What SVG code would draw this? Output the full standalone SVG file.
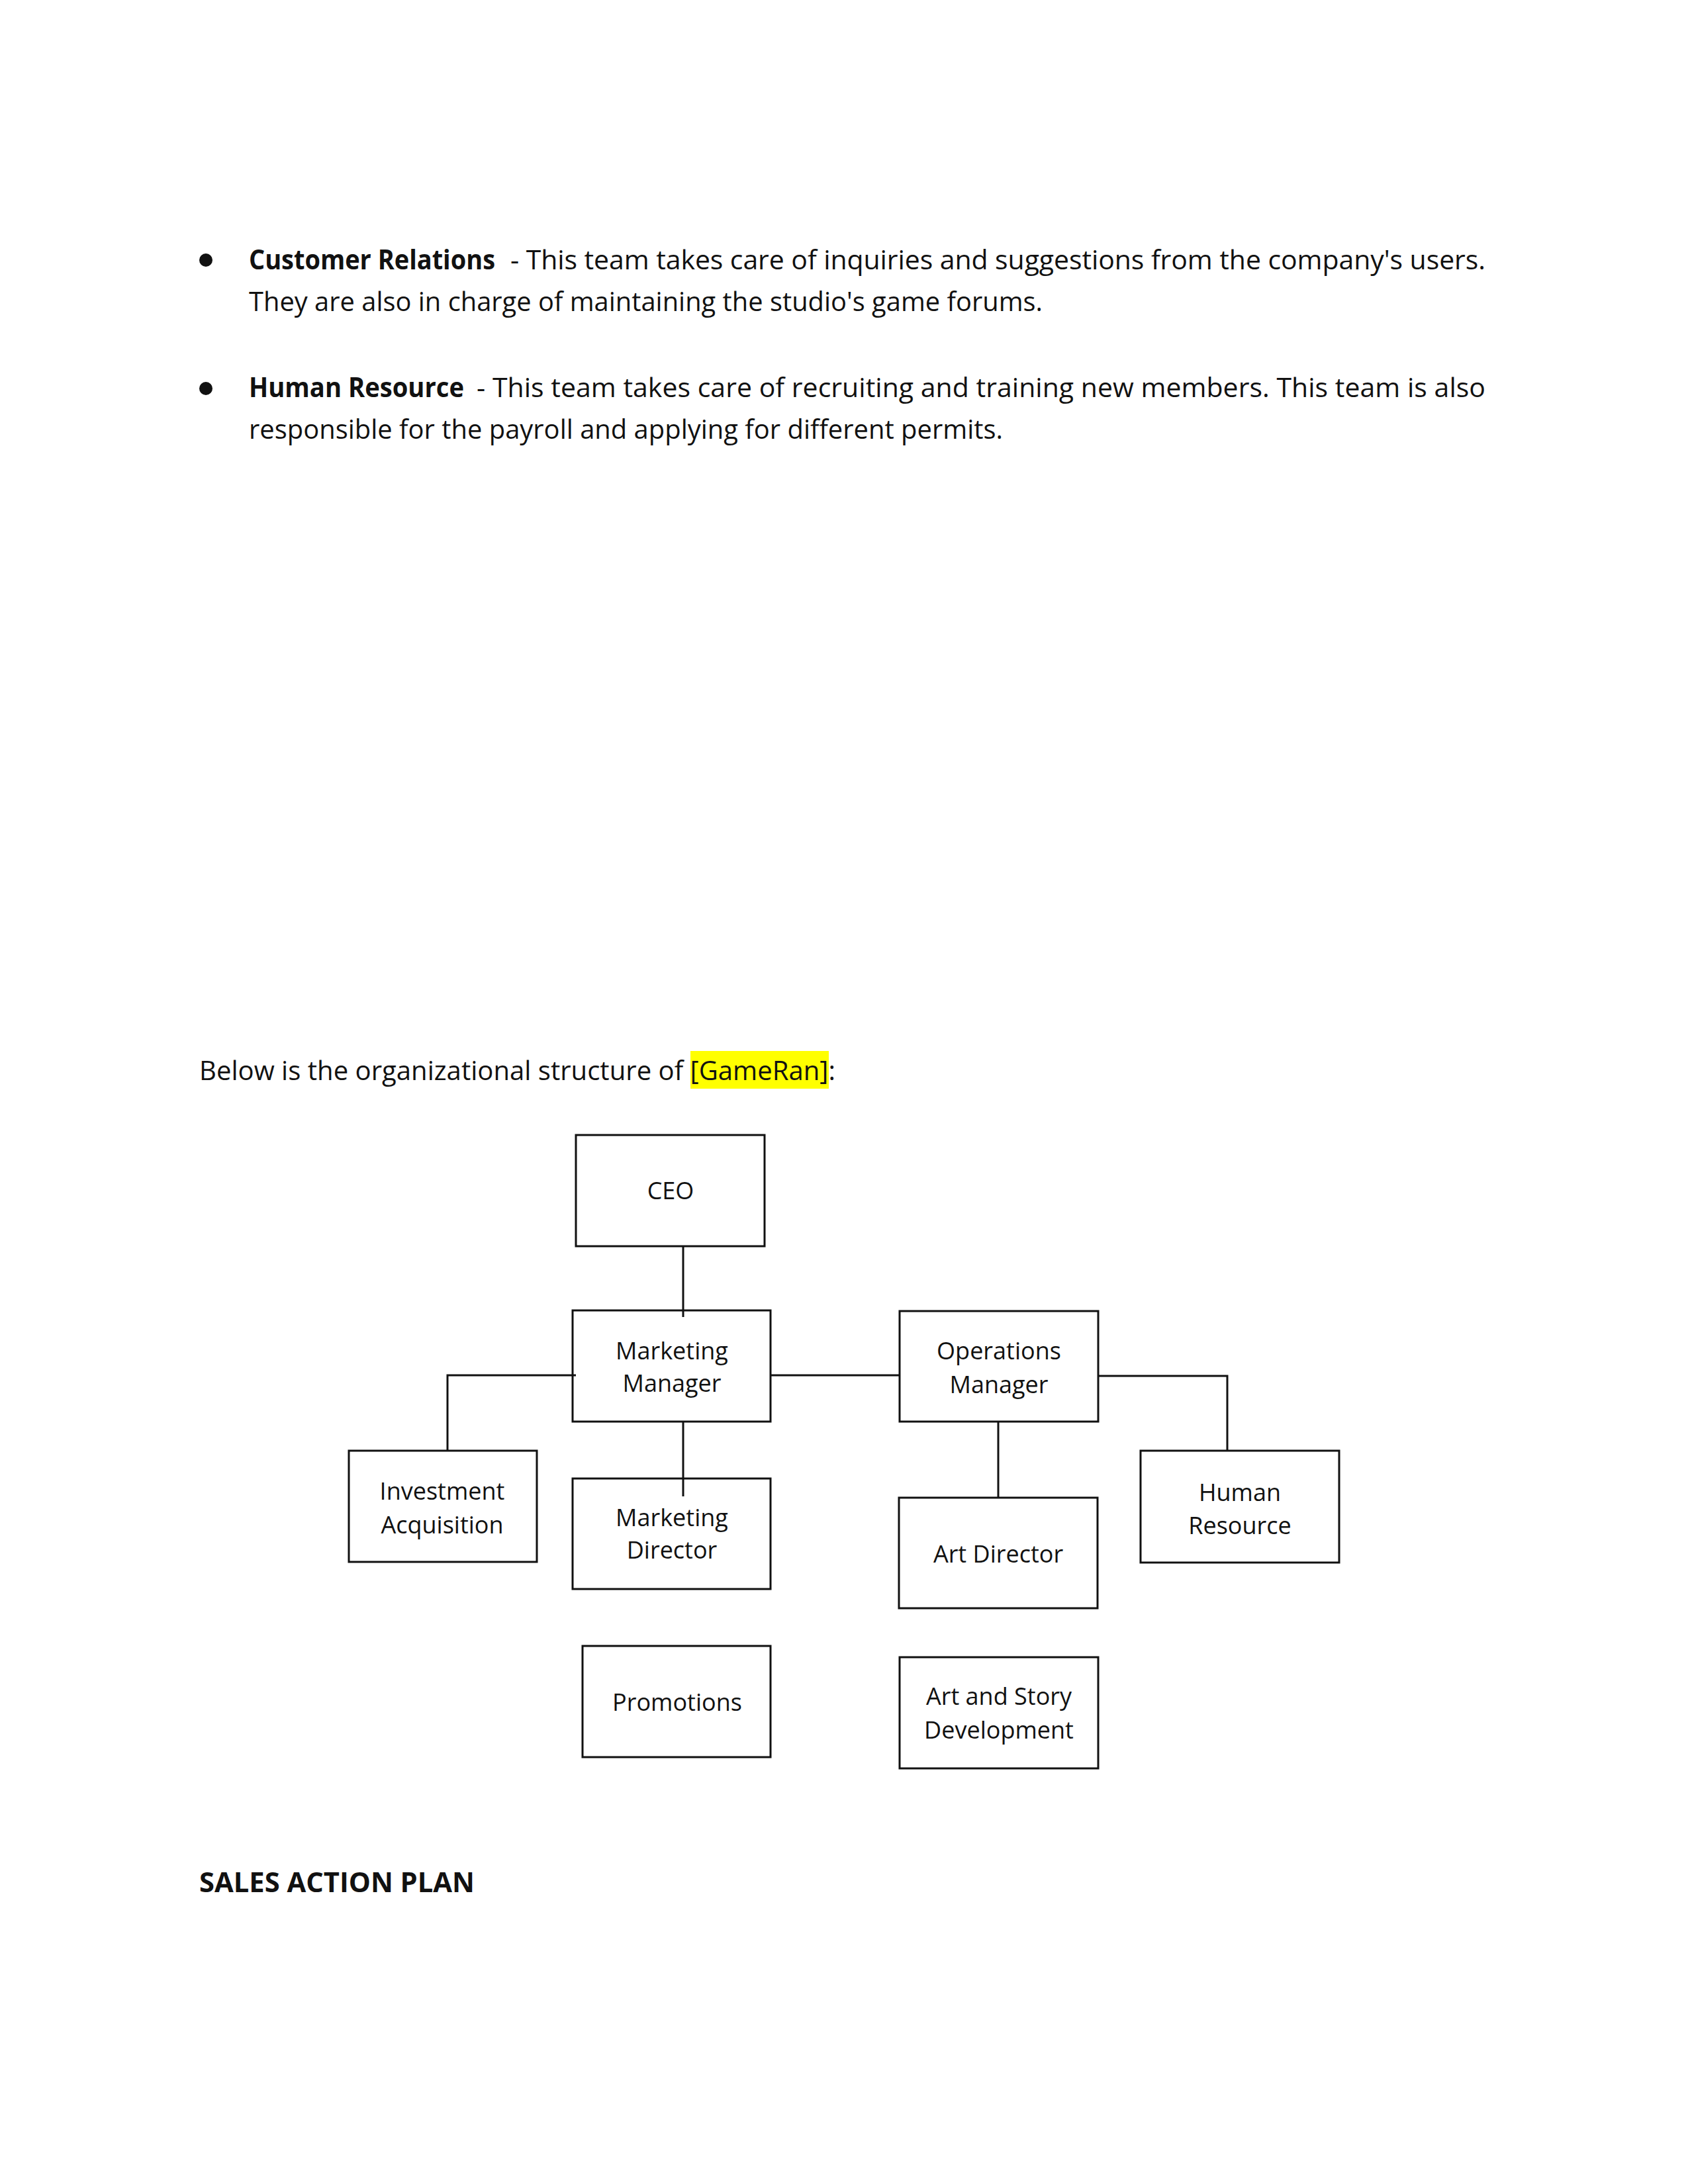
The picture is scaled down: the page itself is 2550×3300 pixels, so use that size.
<svg xmlns="http://www.w3.org/2000/svg" width="2550" height="3300" viewBox="0 0 2550 3300">
<style>
.body{font-family:"Open Sans","Noto Sans","Liberation Sans",sans-serif;font-size:41px;fill:#111}
.b{font-weight:bold}
.box{fill:#fff;stroke:#111;stroke-width:3}
.lbl{font-family:"Open Sans","Noto Sans","Liberation Sans",sans-serif;font-size:36px;fill:#111;text-anchor:middle}
.conn{stroke:#111;stroke-width:3;fill:none}
</style>
<rect width="2550" height="3300" fill="#fff"/>
<g id="text">
<circle cx="311" cy="393" r="10" fill="#111"/>
<text class="body b" x="376" y="407" textLength="372" lengthAdjust="spacingAndGlyphs">Customer Relations</text>
<text class="body" x="771" y="407" textLength="1473" lengthAdjust="spacing">- This team takes care of inquiries and suggestions from the company's users.</text>
<text class="body" x="376" y="470" textLength="1199" lengthAdjust="spacingAndGlyphs">They are also in charge of maintaining the studio's game forums.</text>
<circle cx="311" cy="587" r="10" fill="#111"/>
<text class="body b" x="376" y="600" textLength="325" lengthAdjust="spacingAndGlyphs">Human Resource</text>
<text class="body" x="720" y="600" textLength="1524" lengthAdjust="spacing">- This team takes care of recruiting and training new members. This team is also</text>
<text class="body" x="376" y="663" textLength="1139" lengthAdjust="spacingAndGlyphs">responsible for the payroll and applying for different permits.</text>
<rect x="1043" y="1588" width="209" height="57" fill="#ffff00"/>
<text class="body" x="301" y="1632" textLength="961" lengthAdjust="spacingAndGlyphs">Below is the organizational structure of [GameRan]:</text>
<text class="body b" x="301" y="2859" font-size="46" textLength="416" lengthAdjust="spacingAndGlyphs">SALES ACTION PLAN</text>
</g>
<g id="connectors">
<line class="conn" x1="1032" y1="1877" x2="1032" y2="1990"/>
<polyline class="conn" points="870,2078 676,2078 676,2192"/>
<line class="conn" x1="1164" y1="2078" x2="1359" y2="2078"/>
<line class="conn" x1="1032" y1="2148" x2="1032" y2="2261"/>
<polyline class="conn" points="1659,2079 1854,2079 1854,2192"/>
<line class="conn" x1="1508" y1="2148" x2="1508" y2="2263"/>
</g>
<g id="ceo"><rect class="box" x="870" y="1715" width="285" height="168"/><text class="lbl" x="1013" y="1812">CEO</text></g>
<g id="marketing-manager"><rect class="box" x="865" y="1980" width="299" height="168" fill-opacity="0"/><text class="lbl" x="1015" y="2054">Marketing</text><text class="lbl" x="1015" y="2103">Manager</text></g>
<g id="operations-manager"><rect class="box" x="1359" y="1981" width="300" height="167"/><text class="lbl" x="1509" y="2054">Operations</text><text class="lbl" x="1509" y="2105">Manager</text></g>
<g id="investment-acquisition"><rect class="box" x="527" y="2192" width="284" height="168"/><text class="lbl" x="668" y="2266">Investment</text><text class="lbl" x="668" y="2317">Acquisition</text></g>
<g id="marketing-director"><rect class="box" x="865" y="2234" width="299" height="167" fill-opacity="0"/><text class="lbl" x="1015" y="2306">Marketing</text><text class="lbl" x="1015" y="2355">Director</text></g>
<g id="human-resource"><rect class="box" x="1723" y="2192" width="300" height="169"/><text class="lbl" x="1873" y="2268">Human</text><text class="lbl" x="1873" y="2318">Resource</text></g>
<g id="art-director"><rect class="box" x="1358" y="2263" width="300" height="167"/><text class="lbl" x="1508" y="2361">Art Director</text></g>
<g id="promotions"><rect class="box" x="880" y="2487" width="284" height="168"/><text class="lbl" x="1023" y="2585">Promotions</text></g>
<g id="art-story"><rect class="box" x="1359" y="2504" width="300" height="168"/><text class="lbl" x="1509" y="2576">Art and Story</text><text class="lbl" x="1509" y="2627">Development</text></g>
</svg>
